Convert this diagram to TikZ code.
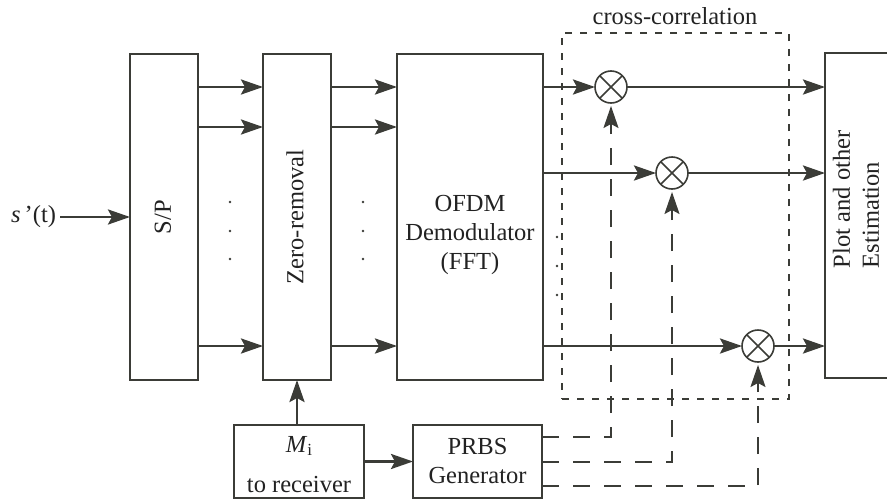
\documentclass[tikz,border=0pt]{standalone}
\usepackage{fontspec}
\setmainfont{Liberation Serif}
\usetikzlibrary{arrows.meta}
\definecolor{ln}{HTML}{3B3C37}
\definecolor{tx}{HTML}{222222}
\begin{document}
\begin{tikzpicture}[x=1pt,y=-1pt,
  every node/.style={font=\fontsize{24.5pt}{29pt}\selectfont, text=tx, inner sep=0pt, outer sep=0pt},
  blk/.style={draw=ln, line width=1.6pt, fill=white, rectangle},
  tip/.style={-{Stealth[length=22pt,width=15pt,inset=4pt]}},
  arr/.style={draw=ln, line width=2.8pt, tip},
  ldash/.style={draw=ln, line width=1.9pt, dash pattern=on 17pt off 14pt, tip, shorten >=3pt},
  sdash/.style={draw=ln, line width=1.6pt, dash pattern=on 7pt off 8pt},
  mul/.style={circle, draw=ln, line width=1.6pt, minimum size=32pt, fill=white,
    path picture={\draw[ln, line width=1.6pt]
      (path picture bounding box.north west) -- (path picture bounding box.south east)
      (path picture bounding box.north east) -- (path picture bounding box.south west);}},
  dotc/.style={fill=ln}
]
\useasboundingbox (0,0) rectangle (887,501);
\clip (0,0) rectangle (887,501);

% cross-correlation region
\node[sdash, rectangle, minimum width=227pt, minimum height=366pt] (cc) at (675.5,216) {};
\node[anchor=base] (cclabel) at (675,24) {cross-correlation};

% blocks
\node[blk, minimum width=68pt, minimum height=326pt] (sp) at (164,217) {};
\node at (163,217) {\rotatebox{90}{S/P}};
\node[blk, minimum width=68pt, minimum height=326pt] (zr) at (297,217) {};
\node at (295,217) {\rotatebox{90}{Zero-removal}};
\node[blk, minimum width=146pt, minimum height=326pt] (ofdm) at (470,217) {};
\node[align=center] at (470,235) {OFDM\\Demodulator\\(FFT)};
\node[blk, minimum width=68pt, minimum height=325pt] (plot) at (859,215.5) {};
\node[rotate=90, align=left, anchor=west] at (856,268) {Plot and other\\Estimation};
\node[blk, minimum width=130pt, minimum height=73pt] (mi) at (299,461.5) {};
\node[anchor=base] at (299,452) {\textit{M}\raisebox{-0.28ex}{\fontsize{17pt}{20pt}\selectfont i}};
\node[anchor=base] at (299,492) {to receiver};
\node[blk, minimum width=129pt, minimum height=73pt, align=center] (prbs) at (477.5,461.5) {PRBS\\Generator};

% multipliers
\node[mul] (m1) at (611,87) {};
\node[mul] (m2) at (672,173) {};
\node[mul] (m3) at (758,346) {};

% input
\node[anchor=east] (sin) at (56,217) {\textit{s}\,’(t)};
\draw[arr] (sin.east) ++(4,0) -- (sp.west);

% S/P -> Zero-removal
\draw[arr] (sp.east |- 0,87) -- (zr.west |- 0,87);
\draw[arr] (sp.east |- 0,127) -- (zr.west |- 0,127);
\draw[arr] (sp.east |- 0,346) -- (zr.west |- 0,346);
% Zero-removal -> OFDM
\draw[arr] (zr.east |- 0,87) -- (ofdm.west |- 0,87);
\draw[arr] (zr.east |- 0,127) -- (ofdm.west |- 0,127);
\draw[arr] (zr.east |- 0,346) -- (ofdm.west |- 0,346);
% OFDM -> multipliers
\draw[arr] (ofdm.east |- m1.west) -- (m1.west);
\draw[arr] (ofdm.east |- m2.west) -- (m2.west);
\draw[arr] (ofdm.east |- m3.west) -- (m3.west);
% multipliers -> plot
\draw[arr] (m1.east) -- (plot.west |- m1.east);
\draw[arr] (m2.east) -- (plot.west |- m2.east);
\draw[arr] (m3.east) -- (plot.west |- m3.east);

% Mi -> Zero-removal, Mi -> PRBS
\draw[arr] (zr.south |- mi.north) -- (zr.south);
\draw[arr] (mi.east) -- (prbs.west |- mi.east);

% PRBS -> multipliers (dashed)
\draw[ldash] (prbs.east |- 0,437) -| (m1.south);
\draw[ldash] (prbs.east |- 0,462) -| (m2.south);
\draw[ldash] (prbs.east |- 0,486) -| (m3.south);

% dots
\foreach \yy in {202,231,259}{
  \fill[dotc] (230,\yy) circle (1.3pt);
  \fill[dotc] (363,\yy) circle (1.3pt);
}
\foreach \yy in {237,266,295}{
  \fill[dotc] (557,\yy) circle (1.3pt);
}
\end{tikzpicture}
\end{document}
